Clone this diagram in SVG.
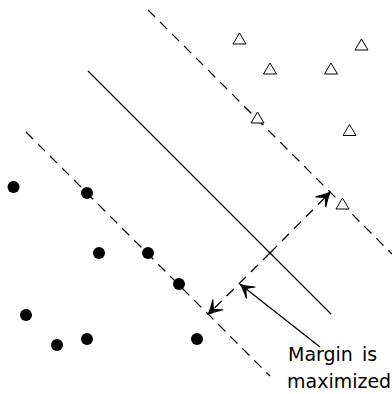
<svg xmlns="http://www.w3.org/2000/svg" width="392" height="394" viewBox="0 0 392 394">
  <style>
    .dash { stroke: #000; stroke-width: 1.3; fill: none; stroke-dasharray: 10 7; }
    .solid { stroke: #000; stroke-width: 1.3; fill: none; }
    .dot { fill: #000; }
    .tri { fill: #fff; stroke: #000; stroke-width: 1; stroke-linejoin: miter; }
    .lbl { font-family: "DejaVu Sans", "Liberation Sans", sans-serif; font-size: 19px; fill: #000; }
  </style>
  <defs>
    <path id="tri" d="M0,0 L6.5,11 L-6.5,11 Z"/>
    <marker id="head" markerUnits="userSpaceOnUse" markerWidth="30" markerHeight="30" refX="0" refY="0" viewBox="-15 -15 30 30" orient="auto" overflow="visible">
      <path d="M-13,-7 Q-5,-1.8 0.5,0 Q-5,1.8 -13,7 Q-7,0.5 -7,0 Q-7,-0.5 -13,-7 Z" fill="#000" stroke="#000" stroke-width="1.2" stroke-linecap="round" stroke-linejoin="round"/>
    </marker>
  </defs>
  <rect width="392" height="394" fill="#fff"/>
  <g id="connectors">
    <line id="upper-margin" class="dash" x1="148" y1="10" x2="392" y2="254"/>
    <line id="hyperplane" class="solid" x1="88" y1="71" x2="331" y2="314"/>
    <line id="lower-margin" class="dash" x1="26" y1="132" x2="270" y2="376"/>
    <line id="margin-arrow" class="dash" x1="270" y1="253" x2="330" y2="192.5" marker-end="url(#head)"/>
    <line id="margin-arrow2" class="dash" x1="270" y1="253" x2="208.5" y2="314" marker-end="url(#head)"/>
    <line id="pointer" class="solid" x1="320" y1="347" x2="240.5" y2="284.5" marker-end="url(#head)"/>
  </g>
  <g id="class-dots">
    <circle class="dot" cx="13.5" cy="187" r="6"/>
    <circle class="dot" cx="87" cy="193" r="6"/>
    <circle class="dot" cx="99" cy="253" r="6"/>
    <circle class="dot" cx="148" cy="253" r="6"/>
    <circle class="dot" cx="179" cy="284" r="6"/>
    <circle class="dot" cx="26" cy="315" r="6"/>
    <circle class="dot" cx="57" cy="345" r="6"/>
    <circle class="dot" cx="87" cy="339" r="6"/>
    <circle class="dot" cx="197" cy="339" r="6"/>
  </g>
  <g id="class-triangles">
    <use href="#tri" class="tri" x="239.5" y="33"/>
    <use href="#tri" class="tri" x="361.5" y="39"/>
    <use href="#tri" class="tri" x="270" y="63"/>
    <use href="#tri" class="tri" x="331" y="63"/>
    <use href="#tri" class="tri" x="257.5" y="112"/>
    <use href="#tri" class="tri" x="349.5" y="124.5"/>
    <use href="#tri" class="tri" x="342.5" y="198"/>
  </g>
  <g id="label">
    <text class="lbl" x="288" y="361" word-spacing="3">Margin is</text>
    <text class="lbl" x="287" y="388">maximized</text>
  </g>
</svg>
